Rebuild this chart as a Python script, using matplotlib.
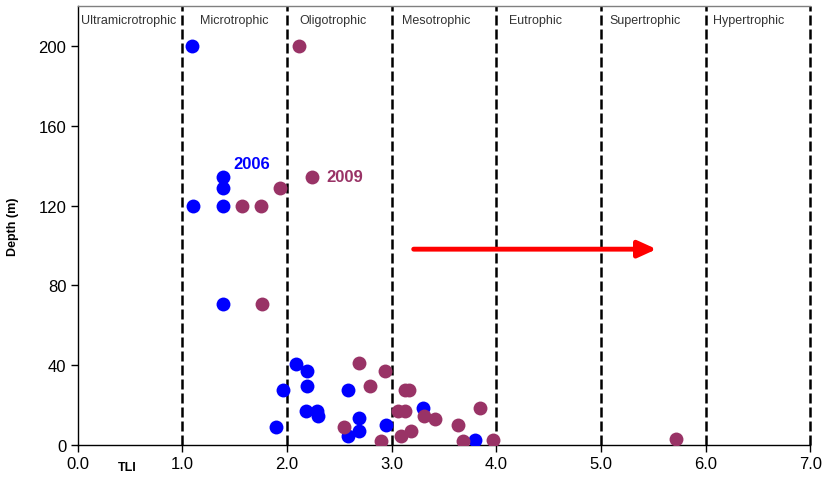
import matplotlib
matplotlib.use('Agg')
import matplotlib.pyplot as plt

plt.rcParams['font.family'] = ['Liberation Sans', 'DejaVu Sans']

# Trophic level classes (TLI bands)
classes = ["Ultramicrotrophic", "Microtrophic", "Oligotrophic", "Mesotrophic",
           "Eutrophic", "Supertrophic", "Hypertrophic"]
class_label_x = [0.03, 1.17, 2.12, 3.10, 4.12, 5.08, 6.07]
boundaries = [1, 2, 3, 4, 5, 6, 7]

# 2006 survey: TLI vs depth
tli_2006 = [1.09, 1.39, 1.39, 1.39, 1.10, 1.39,
            2.09, 2.19, 1.965, 2.19, 2.18, 2.29, 2.30, 1.895,
            2.585, 2.585, 2.69, 2.69, 2.95, 3.30, 3.80]
depth_2006 = [200, 134.5, 129, 120, 120, 70.5,
              40.6, 37.2, 27.7, 29.7, 17, 17, 14.7, 9,
              27.6, 4.4, 13.4, 6.9, 10, 18.4, 2.7]

# 2009 survey: TLI vs depth
tli_2009 = [2.11, 1.933, 1.573, 1.752, 1.76,
            2.69, 2.936, 2.79, 3.13, 3.17, 3.06, 3.13, 3.31, 3.41,
            2.545, 2.895, 3.085, 3.18, 3.63, 3.68, 3.84, 3.97, 5.72]
depth_2009 = [200, 129, 120, 120, 70.5,
              41, 37.2, 29.7, 27.7, 27.7, 17, 17, 14.7, 13,
              9.2, 2.2, 4.4, 6.9, 10, 2.2, 18.4, 2.7, 3]

c2006 = '#0000FF'
c2009 = '#993366'

fig = plt.figure(figsize=(8.23, 4.81), dpi=100)
ax = fig.add_axes([0.0943, 0.0728, 0.8905, 0.912])

# class boundaries
for b in boundaries:
    ax.axvline(b, color='black', lw=1.8, linestyle=(0, (4, 1.6)), zorder=1,
               clip_on=False)

for name, xpos in zip(classes, class_label_x):
    ax.text(xpos, 213, name, fontsize=9, color='#333333', ha='left', va='center')

ax.scatter(tli_2006, depth_2006, s=100, color=c2006, zorder=3, linewidths=0)
ax.scatter(tli_2009, depth_2009, s=100, color=c2009, zorder=3, linewidths=0)

# series labels
ax.text(1.485, 141, '2006', color=c2006, fontsize=12, fontweight='bold', va='center')
ax.scatter([2.24], [134.5], s=100, color=c2009, zorder=3, linewidths=0)
ax.text(2.38, 134.5, '2009', color=c2009, fontsize=12, fontweight='bold', va='center')

# trend arrow
ax.annotate('', xy=(5.53, 98.2), xytext=(3.21, 98.2),
            arrowprops=dict(arrowstyle='-|>,head_length=1.1,head_width=0.5',
                            color='red', lw=3.5, shrinkA=0, shrinkB=0))

ax.set_xlim(0, 7)
ax.set_ylim(0, 220)
ax.set_xticks(range(8))
ax.set_xticklabels([f'{v:.1f}' for v in range(8)])
ax.set_yticks(range(0, 201, 40))
ax.tick_params(labelsize=12, length=5, width=1, direction='out', pad=3)

ax.spines['right'].set_visible(False)
ax.spines['top'].set_color('#808080')
ax.spines['top'].set_linewidth(1)
ax.spines['left'].set_linewidth(1)
ax.spines['bottom'].set_linewidth(1)

ax.set_ylabel('Depth (m)', fontsize=9, fontweight='bold', labelpad=14)
ax.text(0.055, -0.05, 'TLI', transform=ax.transAxes, fontsize=9,
        fontweight='bold', ha='left', va='center')

fig.savefig('out.png', dpi=100)
